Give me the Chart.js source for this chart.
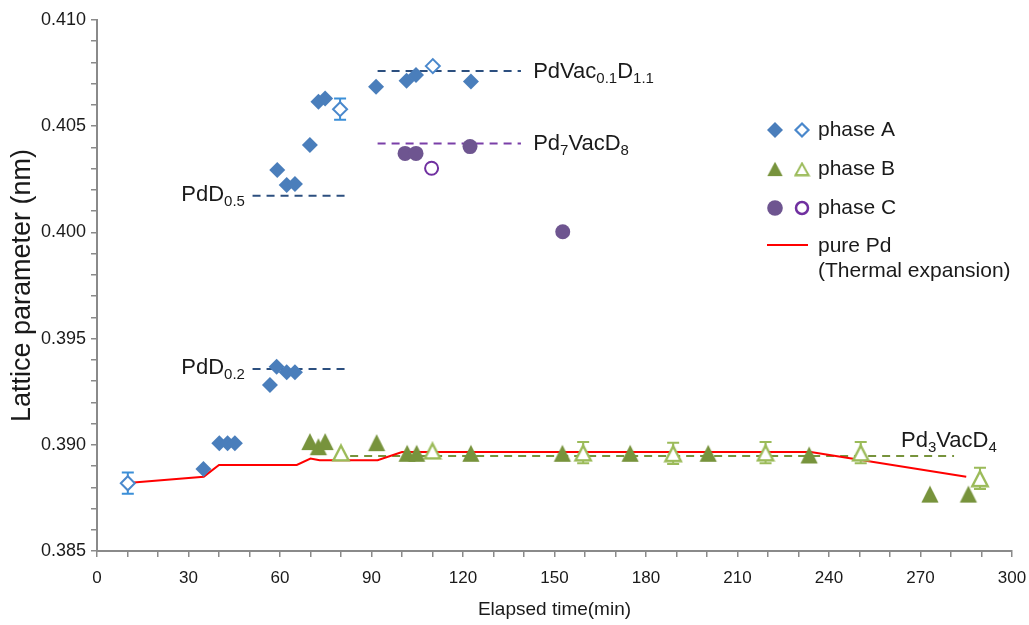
<!DOCTYPE html>
<html lang="en">
<head>
<meta charset="UTF-8">
<title>Lattice parameter vs elapsed time</title>
<script src="https://cdn.jsdelivr.net/npm/chart.js"></script>
<style>
  body { margin: 0; background: #fff; }
  #wrap { width: 1029px; height: 625px; }
</style>
</head>
<body>
<div id="wrap"><canvas id="chart" width="1029" height="625"></canvas></div>
<script>
// ---- data ----
// phase A (diamonds)
const phaseA_x = [34.9, 40.1, 42.8, 45.2, 56.7, 58.9, 62.2, 64.9, 59.1, 62.2, 64.9, 69.8, 72.6, 74.8, 91.5, 101.5, 104.6, 122.6];
const phaseA_y = [0.38886, 0.39007, 0.39007, 0.39007, 0.39282, 0.39368, 0.39341, 0.39341, 0.40294, 0.40223, 0.40228, 0.40411, 0.40615, 0.40631, 0.40686, 0.40714, 0.40741, 0.40710];
const phaseAopen_x = [10.1, 79.7, 110.1];
const phaseAopen_y = [0.38819, 0.40580, 0.40783];
const phaseAopen_err = [0.0005, 0.0005, 0];

// phase B (triangles)
const phaseB_x = [69.8, 72.6, 74.8, 91.7, 101.7, 104.8, 122.6, 152.6, 174.8, 200.4, 233.5, 273.1, 285.7];
const phaseB_y = [0.39015, 0.38991, 0.39015, 0.39010, 0.38960, 0.38960, 0.38960, 0.38960, 0.38960, 0.38960, 0.38952, 0.38768, 0.38768];
const phaseBopen_x = [80.0, 110.0, 159.4, 188.9, 219.2, 250.4, 289.5];
const phaseBopen_y = [0.38963, 0.38972, 0.38963, 0.38960, 0.38963, 0.38963, 0.38842];
const phaseBopen_err = [0, 0, 0.0005, 0.0005, 0.0005, 0.0005, 0.0005];

// phase C (circles)
const phaseC_x = [101.0, 104.6, 122.3, 152.7];
const phaseC_y = [0.40372, 0.40372, 0.40404, 0.40003];
const phaseCopen_x = [109.7];
const phaseCopen_y = [0.40302];

// pure Pd thermal expansion
const purePd_x = [10, 35, 40, 65.5, 70, 73, 92, 100, 234, 285];
const purePd_y = [0.3882, 0.3885, 0.38905, 0.38905, 0.38935, 0.38927, 0.38927, 0.38966, 0.38966, 0.3885];

// reference compositions (dashed lines)
const refNames = ['PdD0.5', 'PdD0.2', 'PdVac0.1D1.1', 'Pd7VacD8', 'Pd3VacD4'];
const refFrom  = [51, 51, 92, 92, 83];
const refTo    = [82, 82, 139, 139, 281];
const refValue = [0.40173, 0.39357, 0.40760, 0.40419, 0.38947];

// tick labels
const xTickStep = 30;
const yTickStep = 0.005;

const pts = (xs, ys) => xs.map((x, i) => ({ x: x, y: ys[i] }));

// ---- styles ----
const cAfill = '#4a7ebb', cAopen = '#4a88cc', cAerr = '#3b8fd8';
const cBfill = '#77933c', cBopen = '#9bbb59';
const cCfill = '#6e5590', cCopen = '#7030a0';
const refColors = ['#2c4f7f', '#2c4f7f', '#2c4f7f', '#7a3fa8', '#77933c'];
const textColor = '#1a1a1a';
const axisColor = '#8a8a8a';

function triImg(fill, stroke, lw) {
  const c = document.createElement('canvas');
  c.width = 20; c.height = 19;
  const g = c.getContext('2d');
  g.beginPath();
  if (stroke) {
    g.moveTo(10, 2.5); g.lineTo(17.7, 17.2); g.lineTo(2.3, 17.2);
  } else {
    g.moveTo(10, 1); g.lineTo(18.6, 18); g.lineTo(1.4, 18);
  }
  g.closePath();
  g.fillStyle = fill || '#fff';
  g.fill();
  if (stroke) { g.strokeStyle = stroke; g.lineWidth = lw; g.stroke(); }
  return c;
}
const triFilled = triImg(cBfill);
const triOpen = triImg('#fff', cBopen, 2.4);

const datasets = [
  { label: 'phase A', data: pts(phaseA_x, phaseA_y), pointStyle: 'rectRot', pointRadius: 8,
    backgroundColor: cAfill, borderColor: cAfill, borderWidth: 0, showLine: false },
  { label: 'phase A open', data: pts(phaseAopen_x, phaseAopen_y), err: phaseAopen_err, errColor: cAerr,
    pointStyle: 'rectRot', pointRadius: 7, backgroundColor: '#fff', borderColor: cAopen, borderWidth: 2, showLine: false },
  { label: 'phase B', data: pts(phaseB_x, phaseB_y), pointStyle: triFilled, pointRadius: 9, showLine: false },
  { label: 'phase B open', data: pts(phaseBopen_x, phaseBopen_y), err: phaseBopen_err, errColor: cBopen,
    pointStyle: triOpen, pointRadius: 9, showLine: false },
  { label: 'phase C', data: pts(phaseC_x, phaseC_y), pointStyle: 'circle', pointRadius: 7.5,
    backgroundColor: cCfill, borderColor: cCfill, borderWidth: 0, showLine: false },
  { label: 'phase C open', data: pts(phaseCopen_x, phaseCopen_y), pointStyle: 'circle', pointRadius: 6.5,
    backgroundColor: '#fff', borderColor: cCopen, borderWidth: 2, showLine: false },
  { label: 'pure Pd', data: pts(purePd_x, purePd_y), showLine: true, borderColor: '#ff0000',
    borderWidth: 2, pointRadius: 0, tension: 0 }
];
refNames.forEach((n, i) => {
  datasets.push({ label: n, data: [{ x: refFrom[i], y: refValue[i] }, { x: refTo[i], y: refValue[i] }],
    showLine: true, borderColor: refColors[i], borderWidth: 2, borderDash: [8, 6], pointRadius: 0 });
});

// text labels next to the dashed lines
const refLabels = [
  { parts: [['PdD', 0], ['0.5', 1]], x: 48.5, y: refValue[0], align: 'right', dy: 5 },
  { parts: [['PdD', 0], ['0.2', 1]], x: 48.5, y: refValue[1], align: 'right', dy: 5 },
  { parts: [['PdVac', 0], ['0.1', 1], ['D', 0], ['1.1', 1]], x: 143, y: refValue[2], align: 'left', dy: 7 },
  { parts: [['Pd', 0], ['7', 1], ['VacD', 0], ['8', 1]], x: 143, y: refValue[3], align: 'left', dy: 7 },
  { parts: [['Pd', 0], ['3', 1], ['VacD', 0], ['4', 1]], x: 263.6, y: refValue[4], align: 'left', dy: -9 }
];

const sans = '"Liberation Sans", Arial, sans-serif';
const mainFont = '22px ' + sans;
const subFont = '15px ' + sans;

const errorBars = {
  id: 'errorBars',
  beforeDatasetsDraw(chart) {
    const ctx = chart.ctx, xs = chart.scales.x, ys = chart.scales.y;
    chart.data.datasets.forEach(ds => {
      if (!ds.err) return;
      ctx.save();
      ctx.strokeStyle = ds.errColor; ctx.lineWidth = 2;
      ds.data.forEach((p, i) => {
        const e = ds.err[i];
        if (!e) return;
        const px = xs.getPixelForValue(p.x);
        const y1 = ys.getPixelForValue(p.y + e), y2 = ys.getPixelForValue(p.y - e);
        ctx.beginPath();
        ctx.moveTo(px, y1); ctx.lineTo(px, y2);
        ctx.moveTo(px - 6, y1); ctx.lineTo(px + 6, y1);
        ctx.moveTo(px - 6, y2); ctx.lineTo(px + 6, y2);
        ctx.stroke();
      });
      ctx.restore();
    });
  }
};

const annotations = {
  id: 'annotations',
  afterDraw(chart) {
    const ctx = chart.ctx, xs = chart.scales.x, ys = chart.scales.y;
    ctx.save();
    ctx.fillStyle = textColor;
    ctx.textBaseline = 'alphabetic';
    ctx.textAlign = 'left';
    refLabels.forEach(l => {
      let w = 0;
      l.parts.forEach(p => { ctx.font = p[1] ? subFont : mainFont; w += ctx.measureText(p[0]).width; });
      let px = xs.getPixelForValue(l.x);
      if (l.align === 'right') px -= w;
      const base = ys.getPixelForValue(l.y) + l.dy;
      l.parts.forEach(p => {
        ctx.font = p[1] ? subFont : mainFont;
        ctx.fillText(p[0], px, p[1] ? base + 5 : base);
        px += ctx.measureText(p[0]).width;
      });
    });

    // legend
    const lx1 = 775, lx2 = 802, tx = 818;
    const rows = [130, 169, 208];
    ctx.font = '21px ' + sans;
    ctx.textBaseline = 'middle';
    diamond(ctx, lx1, rows[0], 8, cAfill, null);
    diamond(ctx, lx2, rows[0], 6.5, '#fff', cAopen);
    ctx.fillStyle = textColor; ctx.fillText('phase A', tx, rows[0]);
    ctx.drawImage(triFilled, lx1 - 9, rows[1] - 8, 18, 16);
    ctx.drawImage(triOpen, lx2 - 8.5, rows[1] - 7.5, 17, 15);
    ctx.fillStyle = textColor; ctx.fillText('phase B', tx, rows[1]);
    ctx.beginPath(); ctx.arc(lx1, rows[2], 7.8, 0, Math.PI * 2); ctx.fillStyle = cCfill; ctx.fill();
    ctx.beginPath(); ctx.arc(lx2, rows[2], 6, 0, Math.PI * 2); ctx.fillStyle = '#fff'; ctx.fill();
    ctx.strokeStyle = cCopen; ctx.lineWidth = 2.5; ctx.stroke();
    ctx.fillStyle = textColor; ctx.fillText('phase C', tx, rows[2]);
    ctx.beginPath(); ctx.moveTo(767, 245); ctx.lineTo(808, 245);
    ctx.strokeStyle = '#ff0000'; ctx.lineWidth = 2; ctx.stroke();
    ctx.fillStyle = textColor;
    ctx.fillText('pure Pd', tx, 246);
    ctx.fillText('(Thermal expansion)', tx, 271);
    ctx.restore();
  }
};

function diamond(ctx, x, y, r, fill, stroke) {
  ctx.beginPath();
  ctx.moveTo(x, y - r); ctx.lineTo(x + r, y); ctx.lineTo(x, y + r); ctx.lineTo(x - r, y);
  ctx.closePath();
  ctx.fillStyle = fill; ctx.fill();
  if (stroke) { ctx.strokeStyle = stroke; ctx.lineWidth = 2.2; ctx.stroke(); }
}

new Chart(document.getElementById('chart'), {
  type: 'scatter',
  data: { datasets: datasets },
  options: {
    responsive: false,
    animation: false,
    layout: { padding: { top: 20, right: 17, left: 0, bottom: 0 } },
    plugins: { legend: { display: false }, tooltip: { enabled: false } },
    scales: {
      x: {
        type: 'linear', min: 0, max: 300,
        afterFit(s) { s.height = 74; s.paddingLeft = 0; s.paddingRight = 0; },
        border: { display: true, color: axisColor, width: 2 },
        grid: { drawOnChartArea: false, drawTicks: true, tickLength: 6, color: axisColor, lineWidth: 1.5 },
        ticks: {
          stepSize: 10, autoSkip: false, maxRotation: 0, padding: 11,
          color: textColor,
          font: { family: sans, size: 17 },
          callback: v => (Math.round(v) % xTickStep === 0 ? String(Math.round(v)) : '')
        },
        title: {
          display: true, text: 'Elapsed time(min)', color: textColor, padding: { top: 4 },
          font: { family: sans, size: 19 }
        }
      },
      y: {
        type: 'linear', min: 0.385, max: 0.410,
        afterFit(s) { s.width = 97; s.paddingTop = 0; s.paddingBottom = 0; },
        border: { display: true, color: axisColor, width: 2 },
        grid: { drawOnChartArea: false, drawTicks: true, tickLength: 6, color: axisColor, lineWidth: 1.5 },
        ticks: {
          stepSize: 0.001, autoSkip: false, padding: 5,
          color: textColor,
          font: { family: sans, size: 18 },
          callback: v => (Math.round(v * 1000) % Math.round(yTickStep * 1000) === 0 ? v.toFixed(3) : '')
        },
        title: {
          display: true, text: 'Lattice parameter (nm)', color: textColor, padding: { top: 6, bottom: 0 },
          font: { family: sans, size: 27 }
        }
      }
    }
  },
  plugins: [errorBars, annotations]
});
</script>
</body>
</html>
